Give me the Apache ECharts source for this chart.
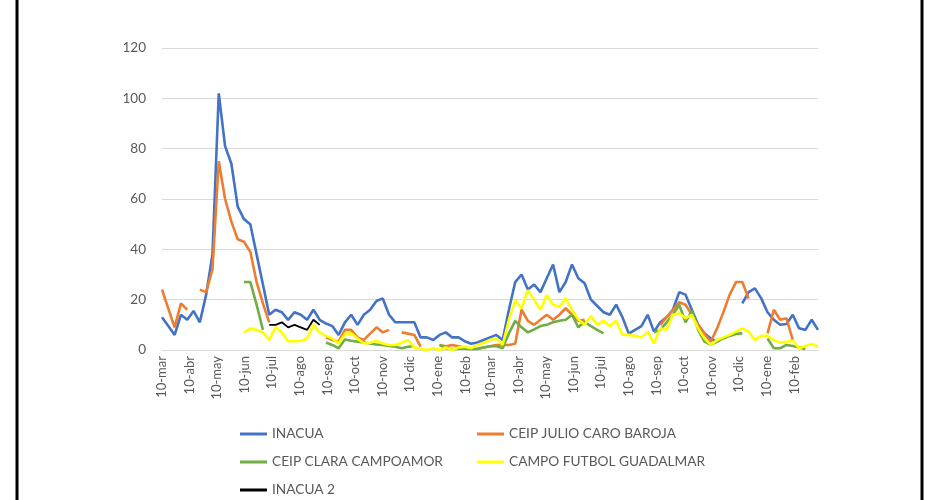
<!DOCTYPE html>
<html>
<head>
<meta charset="utf-8">
<script src="https://cdn.jsdelivr.net/npm/echarts@6/dist/echarts.min.js"></script>
<style>
  html, body { margin: 0; padding: 0; background: #fff; }
  #chart { width: 940px; height: 500px; }
</style>
</head>
<body>
<div id="chart"></div>
<script>
// weekly readings starting 10-mar-2020
var startYear = 2020, startMonth = 2, startDay = 10, weekCount = 105;
var monthNames = ['ene', 'feb', 'mar', 'abr', 'may', 'jun', 'jul', 'ago', 'sep', 'oct', 'nov', 'dic'];
var yTicks = [0, 20, 40, 60, 80, 100, 120];

var inacua = [
  13, 9.5, 6, 14, 12, 15.5, 11, 22, 38, 102,
  81, 74, 57, 52, 50, 38, 26, 14, 16, 15,
  12, 15, 14, 12, 16, 12, 10.5, 9.5, 6, 11,
  14, 10, 14, 16, 19.5, 20.5, 14, 11, 11, 11,
  11, 5, 5, 4, 6, 7, 5, 5, 3.5, 2.5,
  3, 4, 5, 6, 4, 16, 27, 30, 24, 26,
  23, 28.5, 34, 23, 27, 34, 28.5, 26.5, 20, 17.5,
  15, 14, 18, 13, 6.5, 8, 9.5, 14, 7.3, 11,
  13, 16, 23, 22, 16, 10, 6.6, 4.6, 3, null,
  null, null, 18.5, 23, 24.5, 20.5, 15, 12, 10, 10.3,
  14, 8.6, 8, 12, 8
];
var julioCaro = [
  24, 16.5, 9, 18.5, 16, null, 24, 23, 32, 75,
  60, 51, 44, 43, 39, 27, 18.5, 11, null, null,
  null, null, null, null, null, null, 5, 4, 3.3, 8,
  8, 5, 4, 6.5, 9, 7, 8, null, 7, 6.5,
  6, 1.3, null, null, 2, 1.5, 2, 1.5, 1, 0.5,
  0.5, 1, 1.5, 2, 2, 2, 2.5, 16, 11.6, 10,
  12, 14, 12, 14, 16.6, 14, 11.6, 12, null, null,
  null, null, null, null, null, null, null, null, null, 10,
  13, 16, 19, 18, 14, 10, 6.5, 3.3, 8.6, 15,
  22, 27, 27, 20.5, null, null, 6.6, 16, 12, 12.6,
  4, null, null, null, null
];
var claraCampoamor = [
  null, null, null, null, null, null, null, null, null, null,
  null, null, null, 27, 27, 18, 8, null, null, null,
  null, null, null, null, null, null, 3, 2, 0.7, 4.2,
  3.7, 3.3, 3, 2.6, 2.2, 2, 1.6, 1.3, 0.7, 1.3,
  1.6, null, null, null, 2, 0.7, 0.3, 0.5, 0.5, 0.3,
  0.4, 1, 1.5, 1.6, 0.7, 6.6, 11.6, 9, 7, 8.2,
  9.5, 10, 11, 11.6, 12, 14, 9, 11.2, 9.5, 8,
  6.6, null, null, null, null, null, null, null, 7, 8,
  11, 14, 18, 11, 15.6, 8, 3.3, 2, 3.3, 4.6,
  5.6, 6.4, 6.6, null, null, null, 4.6, 0.7, 0.7, 2,
  1.6, 1, 0.4, null, null
];
var campoFutbol = [
  null, null, null, null, null, null, null, null, null, null,
  null, null, null, 7, 8.5, 8, 7, 4, 9, 7,
  3.5, 3.5, 3.6, 4.6, 10, 7, 5.6, 4.6, 2.6, 6.4,
  6.6, 4.6, 2.6, 2.9, 3.7, 2.6, 2, 2, 2.9, 4,
  1, 0.5, 0, 0.7, 0, 1, 0, 1, 1.3, 0.7,
  2, 2.9, 4, 4.6, 2, 12, 19.6, 16.6, 23.8, 19.9,
  16, 21.8, 18, 17.2, 20.5, 16, 12.2, 10, 13.5, 10,
  11.6, 9.5, 11.6, 6, 6, 5.6, 5, 7.3, 2.6, 8.6,
  8, 14, 14.6, 12.6, 14, 8.6, 4.6, 2, 4, 5,
  6, 7.3, 8.6, 7.3, 4, 5.6, 5.6, 4, 2.9, 3.3,
  3.7, 0.7, 1.6, 2.4, 1.3
];
var inacua2 = [
  null, null, null, null, null, null, null, null, null, null,
  null, null, null, null, null, null, null, 10, 10, 11,
  9, 10, 9, 8, 12, 10
];

var weeks = [];
for (var i = 0; i < weekCount; i++) {
  weeks.push(new Date(startYear, startMonth, startDay + 7 * i).getTime());
}
var monthTicks = [];
for (var m = 0; m < 24; m++) {
  monthTicks.push(new Date(startYear, startMonth + m, 10).getTime());
}

function pairs(values) {
  return values.map(function (v, i) { return [weeks[i], v]; });
}

var font = 'Lato, "Liberation Sans", sans-serif';

// one legend per entry so the two-column layout matches
function legendItem(name, left, top) {
  return {
    orient: 'horizontal', left: left, top: top, padding: 0,
    itemWidth: 27, itemHeight: 3, icon: 'rect',
    textStyle: { color: '#595959', fontSize: 13.7, fontFamily: font },
    data: [name]
  };
}

var chart = echarts.init(document.getElementById('chart'));

chart.setOption({
  backgroundColor: '#ffffff',
  animation: false,
  textStyle: { fontFamily: font },
  grid: { left: 162, right: 122, top: 48, bottom: 150 },
  graphic: [
    { type: 'line', shape: { x1: 17, y1: 0, x2: 17, y2: 500 }, style: { stroke: '#000', lineWidth: 3 } },
    { type: 'line', shape: { x1: 922, y1: 0, x2: 922, y2: 500 }, style: { stroke: '#000', lineWidth: 3 } }
  ],
  legend: [
    legendItem('INACUA', 240, 427),
    legendItem('CEIP JULIO CARO BAROJA', 477, 427),
    legendItem('CEIP CLARA CAMPOAMOR', 240, 455),
    legendItem('CAMPO FUTBOL GUADALMAR', 477, 455),
    legendItem('INACUA 2', 240, 483)
  ],
  xAxis: {
    type: 'value',
    min: weeks[0],
    max: weeks[weekCount - 1],
    axisLine: { lineStyle: { color: '#d9d9d9', width: 1 } },
    axisTick: { show: false },
    splitLine: { show: false },
    axisLabel: {
      customValues: monthTicks,
      rotate: 90,
      margin: 6,
      color: '#595959',
      fontSize: 13,
      fontFamily: font,
      hideOverlap: false,
      formatter: function (val) {
        var d = new Date(val);
        return d.getDate() + '-' + monthNames[d.getMonth()];
      }
    }
  },
  yAxis: {
    type: 'value',
    min: yTicks[0],
    max: yTicks[yTicks.length - 1],
    interval: 20,
    axisLine: { show: false },
    axisTick: { show: false },
    splitLine: { lineStyle: { color: '#d9d9d9', width: 1 } },
    axisLabel: { color: '#595959', fontSize: 13.5, margin: 16, fontFamily: font }
  },
  series: [
    { name: 'INACUA', type: 'line', data: pairs(inacua), showSymbol: false, color: '#4472C4', lineStyle: { width: 2.6 } },
    { name: 'CEIP JULIO CARO BAROJA', type: 'line', data: pairs(julioCaro), showSymbol: false, color: '#ED7D31', lineStyle: { width: 2.6 } },
    { name: 'CEIP CLARA CAMPOAMOR', type: 'line', data: pairs(claraCampoamor), showSymbol: false, color: '#70AD47', lineStyle: { width: 2.6 } },
    { name: 'CAMPO FUTBOL GUADALMAR', type: 'line', data: pairs(campoFutbol), showSymbol: false, color: '#FFFF00', lineStyle: { width: 2.6 } },
    { name: 'INACUA 2', type: 'line', data: pairs(inacua2), showSymbol: false, color: '#000000', lineStyle: { width: 1.8 } }
  ]
});
</script>
</body>
</html>
